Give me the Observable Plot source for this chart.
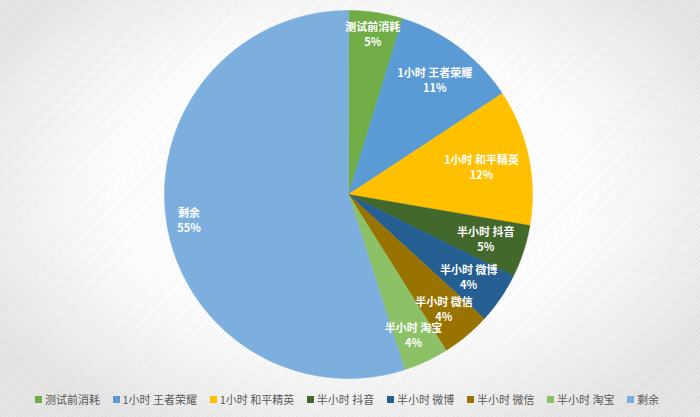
<!DOCTYPE html>
<html>
<head>
<meta charset="utf-8">
<script src="https://cdn.jsdelivr.net/npm/d3@7"></script>
<script src="https://cdn.jsdelivr.net/npm/@observablehq/plot@0.6"></script>
<style>
  html, body { margin: 0; padding: 0; }
  body {
    width: 700px; height: 417px; overflow: hidden;
    font-family: "Noto Sans CJK SC", "Noto Sans", sans-serif;
    background:
      repeating-linear-gradient(135deg, rgba(0,0,0,0.035) 0 1px, rgba(0,0,0,0) 1px 3px),
      radial-gradient(ellipse 60% 65% at 50% 45%, #ffffff 55%, #f2f2f2 80%, #e6e6e6 100%);
  }
  #chart svg { display: block; background: transparent; }
  .legend { display: flex; justify-content: center; align-items: center; margin-top: 6px; margin-left: -6px;
    font-size: 11px; color: #595959; white-space: nowrap; }
  .legend .item { display: flex; align-items: center; margin: 0 6.3px; }
  .legend .sw { width: 7px; height: 7px; margin-right: 3px; }
</style>
</head>
<body>
<div id="chart"></div>
<script>
const categories = ["测试前消耗", "1小时 王者荣耀", "1小时 和平精英", "半小时 抖音", "半小时 微博", "半小时 微信", "半小时 淘宝", "剩余"];
const shares = [4.75, 11.0, 11.95, 4.6, 4.5, 4.3, 3.95, 54.95];
const shareLabels = ["5%", "11%", "12%", "5%", "4%", "4%", "4%", "55%"];
const colors = ["#70AD47", "#5B9BD5", "#FFC000", "#43682B", "#255E91", "#997300", "#8CC168", "#7CAFDD"];

const R = 184, cx = 348, cy = 194;
const arcs = d3.pie().sort(null).startAngle(0).endAngle(2 * Math.PI)(shares);

// slice polygons in unit circle coordinates
const pts = [];
arcs.forEach((a, i) => {
  const name = categories[i];
  pts.push({name, x: 0, y: 0});
  const n = Math.max(2, Math.ceil((a.endAngle - a.startAngle) / 0.01));
  for (let k = 0; k <= n; k++) {
    const t = a.startAngle + (a.endAngle - a.startAngle) * k / n;
    pts.push({name, x: Math.sin(t), y: Math.cos(t)});
  }
});

// label placement: push each label box outward until it touches the rim (inside end)
const fontSpec = "bold 11px 'Noto Sans CJK SC'";
const ctx = document.createElement("canvas").getContext("2d");
ctx.font = fontSpec;
const padX = 8, halfH = 12, limit = R - 1;
const labels = arcs.map((a, i) => {
  const th = (a.startAngle + a.endAngle) / 2;
  const w = Math.max(ctx.measureText(categories[i]).width, ctx.measureText(shareLabels[i]).width);
  const hw = w / 2 + padX, hh = halfH;
  const fits = rho => {
    const px = rho * Math.sin(th), py = rho * Math.cos(th);
    for (const sx of [-1, 1]) for (const sy of [-1, 1]) {
      if (Math.hypot(px + sx * hw, py + sy * hh) > limit) return false;
    }
    return true;
  };
  let lo = 0, hi = R;
  for (let k = 0; k < 40; k++) { const m = (lo + hi) / 2; if (fits(m)) lo = m; else hi = m; }
  return {text: categories[i] + "\n" + shareLabels[i], x: lo * Math.sin(th) / R, y: lo * Math.cos(th) / R};
});

const plot = Plot.plot({
  width: 700,
  height: 385,
  margin: 0,
  x: {domain: [-1, 1], range: [cx - R, cx + R], axis: null},
  y: {domain: [-1, 1], range: [cy + R, cy - R], axis: null},
  color: {domain: categories, range: colors},
  marks: [
    Plot.line(pts, {x: "x", y: "y", z: "name", fill: "name", stroke: "name", strokeWidth: 0.5, curve: "linear-closed"}),
    Plot.text(labels, {x: "x", y: "y", text: "text", fill: "white", fontSize: 11, fontWeight: "bold", lineHeight: 1.36, fontFamily: "Noto Sans CJK SC"})
  ]
});
document.getElementById("chart").appendChild(plot);

const legend = document.createElement("div");
legend.className = "legend";
categories.forEach((c, i) => {
  const it = document.createElement("div");
  it.className = "item";
  const sw = document.createElement("span");
  sw.className = "sw";
  sw.style.background = colors[i];
  const tx = document.createElement("span");
  tx.textContent = c;
  it.appendChild(sw); it.appendChild(tx);
  legend.appendChild(it);
});
document.body.appendChild(legend);
</script>
</body>
</html>
